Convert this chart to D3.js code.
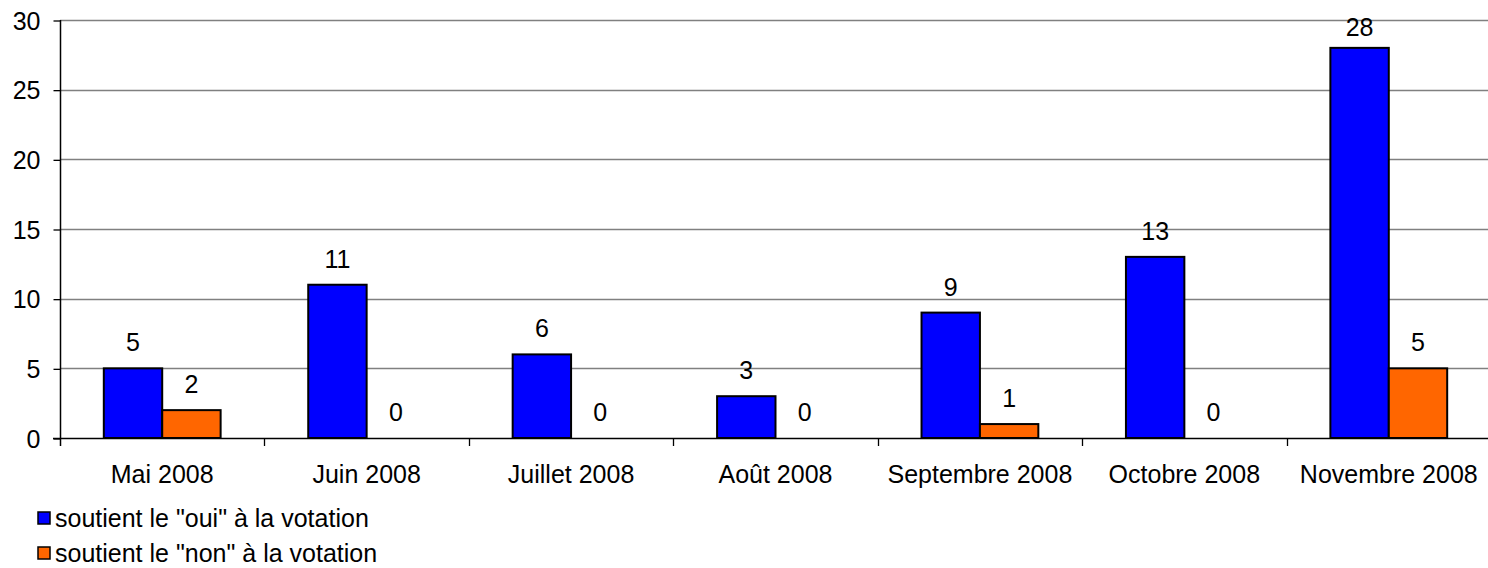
<!DOCTYPE html>
<html>
<head>
<meta charset="utf-8">
<script src="https://cdn.jsdelivr.net/npm/d3@7"></script>
<style>
  html, body { margin: 0; padding: 0; background: #fff; }
  svg { display: block; }
  text { font-family: "Liberation Sans", Arial, sans-serif; fill: #000; }
</style>
</head>
<body>
<svg id="chart" width="1488" height="568"></svg>
<script>
const categories = ["Mai 2008", "Juin 2008", "Juillet 2008", "Août 2008", "Septembre 2008", "Octobre 2008", "Novembre 2008"];
const seriesNames = ["soutient le \"oui\" à la votation", "soutient le \"non\" à la votation"];
const ouiValues = [5, 11, 6, 3, 9, 13, 28];
const nonValues = [2, 0, 0, 0, 1, 0, 5];
const yTicks = [0, 5, 10, 15, 20, 25, 30];
const colors = ["#0000FF", "#FF6600"];

const series = [ouiValues, nonValues];

const svg = d3.select("#chart");
const plotLeft = 60, plotRight = 1491, plotTop = 20, plotBottom = 438;
const fontSize = 25;

const x0 = d3.scaleBand().domain(categories).range([plotLeft, plotRight])
  .paddingInner(0.75 / 1.75).paddingOuter(0.375 / 1.75);
const x1 = d3.scaleBand().domain([0, 1]).range([0, x0.bandwidth()]);
const y = d3.scaleLinear().domain([0, 30]).range([plotBottom, plotTop]);

// gridlines
svg.append("g").selectAll("line").data(yTicks.filter(d => d > 0)).join("line")
  .attr("x1", plotLeft).attr("x2", plotRight)
  .attr("y1", d => Math.round(y(d)) + 0.5).attr("y2", d => Math.round(y(d)) + 0.5)
  .attr("stroke", "#808080").attr("stroke-width", 1.3);

// y axis
const yAxis = svg.append("g").attr("transform", `translate(${plotLeft + 0.5},0)`)
  .call(d3.axisLeft(y).tickValues(yTicks).tickSize(7).tickPadding(13).tickFormat(d3.format("d")));
yAxis.select(".domain").remove();
yAxis.selectAll(".tick line").attr("stroke", "#000").attr("stroke-width", 1.3)
  .attr("transform", "translate(0,0.5)");
yAxis.selectAll("text").attr("font-size", fontSize).attr("font-family", "Liberation Sans, Arial, sans-serif")
  .attr("x", -20).attr("dy", "0.36em");
svg.append("line").attr("x1", plotLeft + 0.5).attr("x2", plotLeft + 0.5).attr("y1", plotTop).attr("y2", plotBottom + 8)
  .attr("stroke", "#000").attr("stroke-width", 1.5);

// bars
const groups = svg.append("g").selectAll("g").data(categories).join("g")
  .attr("transform", d => `translate(${x0(d)},0)`);
groups.selectAll("rect").data((d, i) => series.map((s, k) => ({ k, v: s[i] }))).join("rect")
  .attr("x", d => x1(d.k))
  .attr("width", x1.bandwidth())
  .attr("y", d => y(d.v))
  .attr("height", d => y(0) - y(d.v))
  .attr("fill", d => colors[d.k])
  .attr("stroke", "#000").attr("stroke-width", 2);

// value labels
groups.selectAll("text").data((d, i) => series.map((s, k) => ({ k, v: s[i] }))).join("text")
  .attr("x", d => x1(d.k) + x1.bandwidth() / 2)
  .attr("y", d => Math.max(y(d.v) - 17, 36))
  .attr("text-anchor", "middle")
  .attr("font-size", fontSize)
  .text(d => d.v);

// x axis
svg.append("line").attr("x1", plotLeft - 7).attr("x2", plotRight).attr("y1", plotBottom + 0.5).attr("y2", plotBottom + 0.5)
  .attr("stroke", "#000").attr("stroke-width", 1.5);
const xTickPos = categories.slice(1).map(c => x0(c) - x0.step() * x0.paddingInner() / 2);
svg.append("g").selectAll("line").data(xTickPos).join("line")
  .attr("x1", d => Math.round(d) + 0.5).attr("x2", d => Math.round(d) + 0.5)
  .attr("y1", plotBottom).attr("y2", plotBottom + 8)
  .attr("stroke", "#000").attr("stroke-width", 1.3);
svg.append("g").selectAll("text").data(categories).join("text")
  .attr("x", d => x0(d) + x0.bandwidth() / 2)
  .attr("y", 483)
  .attr("text-anchor", "middle")
  .attr("font-size", fontSize)
  .text(d => d);

// legend
const legend = svg.append("g").selectAll("g").data(seriesNames).join("g")
  .attr("transform", (d, i) => `translate(38,${512 + i * 35})`);
legend.append("rect").attr("width", 12).attr("height", 12)
  .attr("fill", (d, i) => colors[i]).attr("stroke", "#000").attr("stroke-width", 1.5);
legend.append("text").attr("x", 17).attr("y", 15).attr("font-size", fontSize).text(d => d);
</script>
</body>
</html>
